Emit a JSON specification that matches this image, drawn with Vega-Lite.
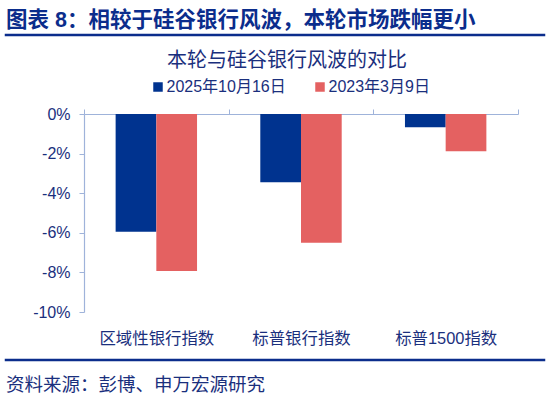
{
  "$schema": "https://vega.github.io/schema/vega-lite/v6.json",
  "background": "white",
  "padding": {"left": 4, "top": 8, "right": 5, "bottom": 5},
  "config": {
    "font": "Liberation Sans, Noto Sans CJK SC, sans-serif",
    "view": {"stroke": null}
  },
  "resolve": {"legend": {"color": "independent"}},
  "spacing": 9,
  "vconcat": [
    {
      "width": 538,
      "height": 0.01,
      "title": {
        "text": "图表 8：相较于硅谷银行风波，本轮市场跌幅更小",
        "anchor": "start",
        "frame": "group",
        "fontSize": 21.5,
        "fontWeight": "bold",
        "color": "#0B2D8C",
        "offset": -2
      },
      "view": {"stroke": "#0B2D8C", "strokeWidth": 2.5},
      "data": {"values": [{"t": ""}]},
      "mark": "text",
      "encoding": {"text": {"field": "t"}}
    },
    {
      "spacing": 5,
      "resolve": {"legend": {"color": "independent"}},
      "vconcat": [
        {
          "spacing": 0,
          "resolve": {"legend": {"color": "independent"}},
          "hconcat": [
            {
              "width": 26,
              "height": 198,
              "data": {"values": [{"t": ""}]},
              "mark": "text",
              "encoding": {"text": {"field": "t"}}
            },
            {
              "width": 434,
              "height": 198,
              "title": {
                "text": "本轮与硅谷银行风波的对比",
                "anchor": "middle",
                "frame": "group",
                "fontSize": 20,
                "fontWeight": "normal",
                "color": "#1A2F7D",
                "dx": -14,
                "offset": 8
              },
              "data": {
                "values": [
                  {"index": "区域性银行指数", "date": "2025年10月16日", "change": -5.95},
                  {"index": "区域性银行指数", "date": "2023年3月9日", "change": -7.93},
                  {"index": "标普银行指数", "date": "2025年10月16日", "change": -3.45},
                  {"index": "标普银行指数", "date": "2023年3月9日", "change": -6.5},
                  {"index": "标普1500指数", "date": "2025年10月16日", "change": -0.67},
                  {"index": "标普1500指数", "date": "2023年3月9日", "change": -1.88}
                ]
              },
              "layer": [
                {
                  "mark": "bar",
                  "encoding": {
                    "x": {
                      "field": "index",
                      "type": "nominal",
                      "sort": null,
                      "scale": {"paddingInner": 0, "paddingOuter": 0},
                      "axis": {
                        "orient": "top",
                        "title": null,
                        "labels": false,
                        "grid": false,
                        "domainColor": "#9FB3DA",
                        "domainWidth": 1.2,
                        "tickColor": "#9FB3DA",
                        "tickBand": "extent",
                        "tickSize": 5
                      }
                    },
                    "xOffset": {
                      "field": "date",
                      "type": "nominal",
                      "sort": ["2025年10月16日", "2023年3月9日"],
                      "scale": {"paddingInner": 0, "paddingOuter": 0.777}
                    },
                    "y": {
                      "field": "change",
                      "type": "quantitative",
                      "scale": {"domain": [-10, 0], "nice": false},
                      "axis": {
                        "values": [0, -2, -4, -6, -8, -10],
                        "labelExpr": "datum.value + '%'",
                        "grid": false,
                        "title": null,
                        "domainColor": "#9FB3DA",
                        "domainWidth": 1.2,
                        "tickColor": "#9FB3DA",
                        "tickSize": 5,
                        "labelPadding": 9,
                        "labelFontSize": 16,
                        "labelColor": "#1A2F7D"
                      }
                    },
                    "color": {
                      "field": "date",
                      "type": "nominal",
                      "scale": {
                        "domain": ["2025年10月16日", "2023年3月9日"],
                        "range": ["#00338F", "#E46161"]
                      },
                      "legend": {
                        "orient": "none",
                        "direction": "horizontal",
                        "legendX": 66,
                        "legendY": -35,
                        "title": null,
                        "symbolType": "square",
                        "symbolSize": 90,
                        "symbolStrokeWidth": 0,
                        "labelFontSize": 16,
                        "labelColor": "#1A2F7D",
                        "labelOffset": 0.5,
                        "columnPadding": 26
                      }
                    }
                  }
                },
                {
                  "mark": {"type": "text", "opacity": 0},
                  "encoding": {
                    "x": {
                      "field": "index",
                      "type": "nominal",
                      "sort": null,
                      "scale": {"paddingInner": 0, "paddingOuter": 0},
                      "axis": {
                        "orient": "bottom",
                        "title": null,
                        "domain": false,
                        "ticks": false,
                        "grid": false,
                        "labelAngle": 0,
                        "labelPadding": 18,
                        "labelFontSize": 16.4,
                        "labelColor": "#1A2F7D"
                      }
                    },
                    "text": {"value": ""}
                  }
                }
              ],
              "resolve": {"scale": {"x": "independent"}}
            }
          ]
        },
        {
          "width": 538,
          "height": 0.01,
          "title": {
            "text": "资料来源：彭博、申万宏源研究",
            "orient": "bottom",
            "anchor": "start",
            "frame": "group",
            "fontSize": 18.5,
            "fontWeight": "normal",
            "color": "#1A2F7D",
            "offset": 11
          },
          "view": {"stroke": "#0B2D8C", "strokeWidth": 2.5},
          "data": {"values": [{"t": ""}]},
          "mark": "text",
          "encoding": {"text": {"field": "t"}}
        }
      ]
    }
  ]
}
